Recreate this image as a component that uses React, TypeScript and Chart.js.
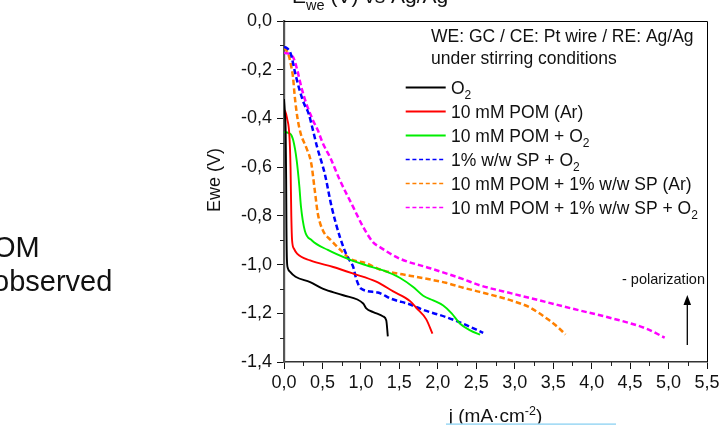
import { useEffect, useRef } from "react";
import { Chart, registerables } from "chart.js";
Chart.register(...registerables);

const FONT = '"Liberation Sans", Arial, Helvetica, sans-serif';

// ---- data (j in mA·cm-2, Ewe in V) ----
const o2X = [0, 0.012, 0.022, 0.028, 0.032, 0.038, 0.05, 0.08, 0.15, 0.34, 0.51, 0.77, 1.03, 1.07, 1.16, 1.29, 1.33, 1.35];
const o2Y = [-0.32, -0.38, -0.46, -0.65, -0.85, -0.98, -1.015, -1.03, -1.05, -1.072, -1.1, -1.126, -1.16, -1.18, -1.195, -1.213, -1.23, -1.295];

const pomArX = [0, 0.015, 0.04, 0.07, 0.085, 0.095, 0.105, 0.13, 0.17, 0.34, 0.64, 0.9, 1.2, 1.42, 1.64, 1.72, 1.85, 1.93];
const pomArY = [-0.365, -0.37, -0.4, -0.47, -0.6, -0.8, -0.9, -0.935, -0.955, -0.983, -1.01, -1.037, -1.07, -1.11, -1.15, -1.178, -1.225, -1.284];

const pomO2X = [0, 0.08, 0.12, 0.165, 0.2, 0.22, 0.27, 0.36, 0.57, 0.84, 1.07, 1.29, 1.51, 1.68, 1.81, 1.94, 2.07, 2.18, 2.29, 2.42, 2.55];
const pomO2Y = [-0.456, -0.463, -0.49, -0.572, -0.68, -0.76, -0.86, -0.9, -0.94, -0.978, -1.003, -1.024, -1.055, -1.092, -1.128, -1.147, -1.168, -1.2, -1.243, -1.27, -1.288];

const spO2X = [0, 0.03, 0.087, 0.147, 0.204, 0.26, 0.32, 0.377, 0.43, 0.53, 0.62, 0.73, 0.82, 0.9, 0.94, 1.0, 1.22, 1.39, 1.65, 1.8, 2.11, 2.33, 2.59];
const spO2Y = [-0.107, -0.11, -0.134, -0.216, -0.285, -0.339, -0.38, -0.449, -0.517, -0.627, -0.764, -0.89, -0.965, -1.01, -1.06, -1.098, -1.115, -1.14, -1.165, -1.185, -1.216, -1.243, -1.28];

const pomSpArX = [0, 0.02, 0.06, 0.09, 0.117, 0.14, 0.173, 0.217, 0.29, 0.355, 0.4, 0.44, 0.506, 0.61, 0.74, 0.857, 1.074, 1.245, 1.68, 2.107, 2.33, 2.545, 2.98, 3.19, 3.32, 3.45, 3.56, 3.66];
const pomSpArY = [-0.11, -0.115, -0.14, -0.18, -0.23, -0.31, -0.394, -0.462, -0.52, -0.586, -0.695, -0.791, -0.86, -0.9, -0.942, -0.976, -0.995, -1.02, -1.048, -1.075, -1.095, -1.112, -1.15, -1.175, -1.2, -1.229, -1.257, -1.287];

const pomSpO2X = [0, 0.117, 0.173, 0.225, 0.29, 0.377, 0.44, 0.506, 0.6, 0.727, 0.9, 1.03, 1.16, 1.245, 1.5, 1.9, 2.33, 2.545, 2.98, 3.41, 3.84, 4.28, 4.71, 4.95];
const pomSpO2Y = [-0.13, -0.148, -0.202, -0.271, -0.339, -0.408, -0.449, -0.503, -0.56, -0.654, -0.764, -0.846, -0.909, -0.928, -0.975, -1.015, -1.06, -1.085, -1.12, -1.154, -1.188, -1.222, -1.263, -1.3];

const seriesLabels = [
  "O_{2}",
  "10 mM POM (Ar)",
  "10 mM POM + O_{2}",
  "1% w/w SP + O_{2}",
  "10 mM POM + 1% w/w SP (Ar)",
  "10 mM POM + 1% w/w SP + O_{2}",
];
const seriesX = [o2X, pomArX, pomO2X, spO2X, pomSpArX, pomSpO2X];
const seriesY = [o2Y, pomArY, pomO2Y, spO2Y, pomSpArY, pomSpO2Y];
const seriesColors = ["#000000", "#ff0000", "#00ee00", "#0000ff", "#ff8000", "#ff00ff"];
const seriesDashed = [false, false, false, true, true, true];

const xMajorTicks = [0, 0.5, 1, 1.5, 2, 2.5, 3, 3.5, 4, 4.5, 5, 5.5];
const xMinorTicks = [0.25, 0.75, 1.25, 1.75, 2.25, 2.75, 3.25, 3.75, 4.25, 4.75, 5.25];
const yMajorTicks = [0, -0.2, -0.4, -0.6, -0.8, -1.0, -1.2, -1.4];
const yMinorTicks = [-0.1, -0.3, -0.5, -0.7, -0.9, -1.1, -1.3];

const titleText = "E_{we} (V) vs Ag/Ag";
const xTitle = "j (mA·cm^{-2})";
const yTitle = "Ewe (V)";
const infoLines = ["WE: GC / CE: Pt wire / RE: Ag/Ag", "under stirring conditions"];
const polarizationText = "- polarization";
const sideTextLines = ["OM", "observed"];

const fmt = (v: number) => (Math.abs(v) < 1e-9 ? 0 : v).toFixed(1).replace(".", ",");

type Seg = { t: string; k: "n" | "sub" | "sup" };
function parseRich(s: string): Seg[] {
  const out: Seg[] = [];
  const re = /([_^])\{([^}]*)\}/g;
  let last = 0;
  let m: RegExpExecArray | null;
  while ((m = re.exec(s))) {
    if (m.index > last) out.push({ t: s.slice(last, m.index), k: "n" });
    out.push({ t: m[2], k: m[1] === "_" ? "sub" : "sup" });
    last = re.lastIndex;
  }
  if (last < s.length) out.push({ t: s.slice(last), k: "n" });
  return out;
}

function drawRich(
  ctx: CanvasRenderingContext2D,
  s: string,
  x: number,
  y: number,
  size: number,
  align: "left" | "center",
  small: number,
  subDy: number,
  supDy: number
) {
  const segs = parseRich(s);
  const fontFor = (k: string) => `${k === "n" ? size : small}px ${FONT}`;
  let total = 0;
  segs.forEach((sg) => {
    ctx.font = fontFor(sg.k);
    total += ctx.measureText(sg.t).width;
  });
  let cx = align === "center" ? x - total / 2 : x;
  ctx.textAlign = "left";
  ctx.textBaseline = "alphabetic";
  segs.forEach((sg) => {
    ctx.font = fontFor(sg.k);
    const dy = sg.k === "sub" ? subDy : sg.k === "sup" ? -supDy : 0;
    ctx.fillText(sg.t, cx, y + dy);
    cx += ctx.measureText(sg.t).width;
  });
}

const overlay = {
  id: "overlay",
  afterDraw(chart: any) {
    const ctx: CanvasRenderingContext2D = chart.ctx;
    const ca = chart.chartArea;
    const xs = chart.scales.x;
    const ys = chart.scales.y;
    ctx.save();

    // frame top / right
    ctx.strokeStyle = "#000";
    ctx.lineWidth = 1;
    ctx.setLineDash([]);
    ctx.beginPath();
    ctx.moveTo(ca.left, Math.round(ca.top) + 0.5);
    ctx.lineTo(Math.round(ca.right) + 0.5, Math.round(ca.top) + 0.5);
    ctx.lineTo(Math.round(ca.right) + 0.5, ca.bottom);
    ctx.stroke();

    // minor ticks
    ctx.strokeStyle = "#222";
    ctx.beginPath();
    yMinorTicks.forEach((v) => {
      const py = Math.round(ys.getPixelForValue(v)) + 0.5;
      ctx.moveTo(ca.left - 4, py);
      ctx.lineTo(ca.left, py);
    });
    xMinorTicks.forEach((v) => {
      const px = Math.round(xs.getPixelForValue(v)) + 0.5;
      ctx.moveTo(px, ca.bottom);
      ctx.lineTo(px, ca.bottom + 4);
    });
    ctx.stroke();

    ctx.fillStyle = "#111";
    // info text
    ctx.font = `17.5px ${FONT}`;
    ctx.textAlign = "left";
    ctx.textBaseline = "alphabetic";
    ctx.fillText(infoLines[0], 431, 42);
    ctx.fillText(infoLines[1], 431, 63.5);

    // legend
    seriesLabels.forEach((lab, i) => {
      const ly = 87.5 + i * 24;
      ctx.strokeStyle = seriesColors[i];
      ctx.lineWidth = seriesDashed[i] ? 1.6 : 1.8;
      ctx.setLineDash(seriesDashed[i] ? [4, 2.7] : []);
      ctx.beginPath();
      ctx.moveTo(405.7, ly);
      ctx.lineTo(445.7, ly);
      ctx.stroke();
      ctx.setLineDash([]);
      ctx.fillStyle = "#111";
      drawRich(ctx, lab, 451, ly + 6, 17.5, "left", 12, 5, 7);
    });

    // polarization note + arrow
    ctx.fillStyle = "#111";
    ctx.font = `14.5px ${FONT}`;
    ctx.textAlign = "right";
    ctx.fillText(polarizationText, 705, 284);
    ctx.strokeStyle = "#000";
    ctx.lineWidth = 1.3;
    ctx.beginPath();
    ctx.moveTo(687.3, 345);
    ctx.lineTo(687.3, 303);
    ctx.stroke();
    ctx.fillStyle = "#000";
    ctx.beginPath();
    ctx.moveTo(687.3, 295);
    ctx.lineTo(683.5, 305);
    ctx.lineTo(691.1, 305);
    ctx.closePath();
    ctx.fill();

    // axis titles
    ctx.fillStyle = "#111";
    ctx.save();
    ctx.translate(220, 180);
    ctx.rotate(-Math.PI / 2);
    ctx.font = `18px ${FONT}`;
    ctx.textAlign = "center";
    ctx.textBaseline = "alphabetic";
    ctx.fillText(yTitle, 0, 0);
    ctx.restore();

    drawRich(ctx, xTitle, 495.5, 422, 19, "center", 12.5, 6, 7.5);

    // top (partially cropped) title
    drawRich(ctx, titleText, 292, 3, 21, "left", 14.5, 7, 8);

    // side text from slide
    ctx.font = `29px ${FONT}`;
    ctx.textAlign = "left";
    ctx.fillText(sideTextLines[0], -7, 256.5);
    ctx.fillText(sideTextLines[1], -7, 291);

    // thin light-blue strip at the bottom edge
    ctx.fillStyle = "#a6dcf5";
    ctx.fillRect(446, 423.3, 170, 1.7);

    ctx.restore();
  },
};

export default function App() {
  const ref = useRef<HTMLCanvasElement | null>(null);
  useEffect(() => {
    if (!ref.current) return;
    const datasets = seriesLabels.map((lab, i) => ({
      label: lab,
      data: seriesX[i].map((x, k) => ({ x, y: seriesY[i][k] })),
      showLine: true,
      borderColor: seriesColors[i],
      backgroundColor: seriesColors[i],
      borderWidth: seriesDashed[i] ? 2.5 : 1.9,
      borderDash: seriesDashed[i] ? [5.5, 3] : [],
      pointRadius: 0,
      cubicInterpolationMode: "monotone" as const,
      fill: false,
    }));
    const chart = new Chart(ref.current, {
      type: "scatter",
      data: { datasets },
      options: {
        animation: false,
        responsive: false,
        devicePixelRatio: 1,
        layout: { padding: { top: 21, right: 19, left: 0, bottom: 0 } },
        plugins: { legend: { display: false }, tooltip: { enabled: false } },
        scales: {
          x: {
            type: "linear",
            min: 0,
            max: 5.5,
            afterBuildTicks: (s: any) => {
              s.ticks = xMajorTicks.map((v) => ({ value: v }));
            },
            afterFit: (s: any) => {
              s.height = 63;
            },
            ticks: {
              callback: (v: any) => fmt(Number(v)),
              font: { family: FONT, size: 18 },
              color: "#111",
              padding: 3,
              maxRotation: 0,
              autoSkip: false,
            },
            grid: { drawOnChartArea: false, tickLength: 7, tickColor: "#111", tickWidth: 1 },
            border: { color: "#333", width: 1.6 },
          },
          y: {
            type: "linear",
            min: -1.4,
            max: 0,
            afterBuildTicks: (s: any) => {
              s.ticks = yMajorTicks.map((v) => ({ value: v }));
            },
            afterFit: (s: any) => {
              s.width = 284;
            },
            ticks: {
              callback: (v: any) => fmt(Number(v)),
              font: { family: FONT, size: 18 },
              color: "#111",
              padding: 5,
              autoSkip: false,
            },
            grid: { drawOnChartArea: false, tickLength: 7, tickColor: "#111", tickWidth: 1 },
            border: { color: "#555", width: 2.2 },
          },
        },
      },
      plugins: [overlay],
    } as any);
    return () => chart.destroy();
  }, []);
  return (
    <div style={{ position: "fixed", left: 0, top: 0, width: 726, height: 425, background: "#fff" }}>
      <canvas ref={ref} width={726} height={425} style={{ display: "block", width: 726, height: 425 }} />
    </div>
  );
}
